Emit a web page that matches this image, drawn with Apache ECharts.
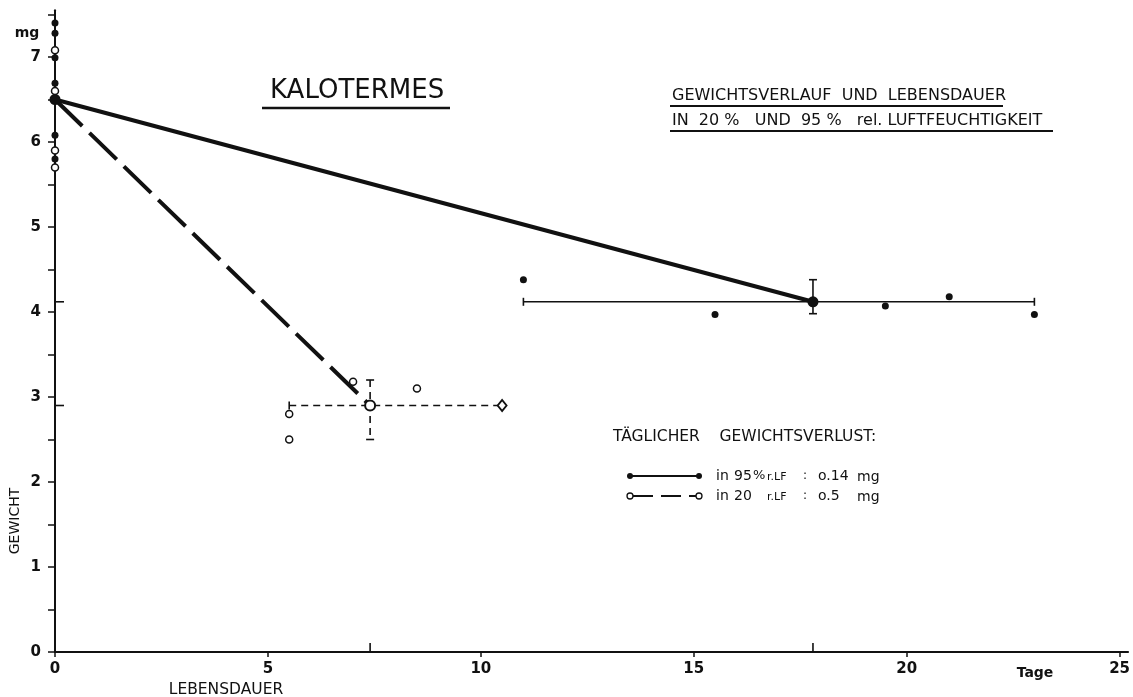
<!DOCTYPE html>
<html><head><meta charset="utf-8">
<script src="https://cdn.jsdelivr.net/npm/echarts@6/dist/echarts.min.js"></script>
<style>html,body{margin:0;padding:0;background:#fff}#c{width:1133px;height:697px}</style>
</head><body><div id="c"></div>
<script>
// ---- data ----
const xTickValues = [0, 5, 10, 15, 20, 25];
const xLabelValues = [0, 5, 10, 15, 20, 25];
const yTickValues = [0, 0.5, 1, 1.5, 2, 2.5, 3, 3.5, 4, 4.5, 5, 5.5, 6, 6.5, 7, 7.5];
const yLabelValues = [0, 1, 2, 3, 4, 5, 6, 7];
const startDay = 0;
const startWeight = 6.5;
const initialWeights95 = [7.40, 7.28, 6.99, 6.69, 6.08, 5.80];
const initialWeights20 = [7.08, 6.60, 5.90, 5.70];
const deathDays95 = [11.0, 15.5, 19.5, 21.0, 23.0];
const deathWeights95 = [4.38, 3.97, 4.07, 4.18, 3.97];
const deathDays20 = [5.5, 5.5, 7.0, 8.5];
const deathWeights20 = [2.80, 2.50, 3.18, 3.10];
const mean95 = [17.8, 4.12];
const mean20 = [7.4, 2.90];
const dayRange95 = [11.0, 23.0];
const weightRange95 = [3.98, 4.38];
const dayRange20 = [5.5, 10.5];
const weightRange20 = [2.50, 3.20];

const FONT = 'DejaVu Sans';
const INK = '#111';

function errRender(dashed, capRight) {
  return function (params, api) {
    const mx = api.value(0), my = api.value(1);
    const l = api.coord([api.value(2), my]);
    const r = api.coord([api.value(3), my]);
    const b = api.coord([mx, api.value(4)]);
    const t = api.coord([mx, api.value(5)]);
    const st = {stroke: INK, lineWidth: 1.6, lineDash: dashed ? [7, 5] : null};
    const cap = {stroke: INK, lineWidth: 1.6};
    const ch = [
      {type: 'line', shape: {x1: l[0], y1: l[1], x2: r[0], y2: r[1]}, style: st},
      {type: 'line', shape: {x1: l[0], y1: l[1] - 4, x2: l[0], y2: l[1] + 4}, style: cap},
      {type: 'line', shape: {x1: t[0], y1: t[1], x2: b[0], y2: b[1]}, style: st},
      {type: 'line', shape: {x1: t[0] - 4, y1: t[1], x2: t[0] + 4, y2: t[1]}, style: cap},
      {type: 'line', shape: {x1: b[0] - 4, y1: b[1], x2: b[0] + 4, y2: b[1]}, style: cap}
    ];
    if (capRight) ch.push({type: 'line', shape: {x1: r[0], y1: r[1] - 4, x2: r[0], y2: r[1] + 4}, style: cap});
    return {type: 'group', children: ch};
  };
}

const chart = echarts.init(document.getElementById('c'));
const txt = (x, y, s, size, extra) => ({
  type: 'text', x: x, y: y,
  style: {text: s, font: ((extra && extra.weight) || 'normal') + ' ' + size + 'px "' + FONT + '"', fill: INK,
    align: (extra && extra.align) || 'left', verticalAlign: 'middle'}
});
const ln = (x1, y1, x2, y2, w, dash) => ({type: 'line', shape: {x1, y1, x2, y2}, style: {stroke: INK, lineWidth: w, lineDash: dash || null}});
const solid = {color: INK, opacity: 1};

chart.setOption({
  animation: false,
  backgroundColor: '#fff',
  grid: {left: 55, right: 1.5, top: 10.25, bottom: 45, containLabel: false},
  xAxis: {
    type: 'value', min: 0, max: 25.2,
    axisLine: {lineStyle: {color: INK, width: 2}},
    axisTick: {show: true, customValues: xTickValues, length: 5, inside: false, lineStyle: {color: INK, width: 1.5}},
    axisLabel: {customValues: xLabelValues, margin: 10, color: INK, fontFamily: FONT, fontSize: 15, fontWeight: 'bold'},
    splitLine: {show: false}
  },
  yAxis: {
    type: 'value', min: 0, max: 7.55,
    axisLine: {show: true, lineStyle: {color: INK, width: 2}},
    axisTick: {show: true, customValues: yTickValues, length: 7, lineStyle: {color: INK, width: 1.5}},
    axisLabel: {customValues: yLabelValues, margin: 14, color: INK, fontFamily: FONT, fontSize: 15, fontWeight: 'bold'},
    splitLine: {show: false}
  },
  series: [
    {type: 'line', data: [[startDay, startWeight], mean95], symbol: 'none', clip: false,
      lineStyle: {color: INK, width: 4}, z: 3},
    {type: 'line', data: [[startDay, startWeight], mean20], symbol: 'none', clip: false,
      lineStyle: {color: INK, width: 4, type: [38, 10]}, z: 3},
    {type: 'custom', renderItem: errRender(false, true), clip: false, z: 2,
      data: [[mean95[0], mean95[1], dayRange95[0], dayRange95[1], weightRange95[0], weightRange95[1]]]},
    {type: 'custom', renderItem: errRender(true, false), clip: false, z: 2,
      data: [[mean20[0], mean20[1], dayRange20[0], dayRange20[1], weightRange20[0], weightRange20[1]]]},
    {type: 'scatter', clip: false, z: 5, symbol: 'circle', symbolSize: 7, itemStyle: solid,
      data: initialWeights95.map(w => [startDay, w]).concat(deathDays95.map((d, i) => [d, deathWeights95[i]]))},
    {type: 'scatter', clip: false, z: 5, symbol: 'circle', symbolSize: 7,
      itemStyle: {color: '#fff', opacity: 1, borderColor: INK, borderWidth: 1.5},
      data: initialWeights20.map(w => [startDay, w]).concat(deathDays20.map((d, i) => [d, deathWeights20[i]]))},
    {type: 'scatter', clip: false, z: 6, symbol: 'circle', symbolSize: 11, itemStyle: solid,
      data: [mean95, [startDay, startWeight]]},
    {type: 'scatter', clip: false, z: 6, symbol: 'circle', symbolSize: 10,
      itemStyle: {color: '#fff', opacity: 1, borderColor: INK, borderWidth: 2}, data: [mean20]},
    {type: 'scatter', clip: false, z: 6, symbol: 'diamond', symbolSize: [9, 11],
      itemStyle: {color: '#fff', opacity: 1, borderColor: INK, borderWidth: 1.8}, data: [[dayRange20[1], mean20[1]]]},
    {type: 'scatter', clip: false, z: 4, symbol: 'rect', symbolSize: [1.6, 9], symbolOffset: [0, -4.5],
      itemStyle: solid, data: [[mean20[0], 0], [mean95[0], 0]]},
    {type: 'scatter', clip: false, z: 4, symbol: 'rect', symbolSize: [9, 1.6], symbolOffset: [4.5, 0],
      itemStyle: solid, data: [[0, mean95[1]], [0, mean20[1]]]}
  ],
  graphic: [
    txt(270, 91, 'KALOTERMES', 26),
    ln(262, 108, 450, 108, 2.5),
    txt(672, 96, 'GEWICHTSVERLAUF  UND  LEBENSDAUER', 16),
    ln(670, 106, 1003, 106, 2),
    txt(672, 121, 'IN  20 %   UND  95 %   rel. LUFTFEUCHTIGKEIT', 16),
    ln(670, 131, 1053, 131, 2),
    txt(613, 437, 'TÄGLICHER    GEWICHTSVERLUST:', 15.5),
    ln(630, 476, 699, 476, 2),
    {type: 'circle', shape: {cx: 630, cy: 476, r: 3}, style: {fill: INK}},
    {type: 'circle', shape: {cx: 699, cy: 476, r: 3}, style: {fill: INK}},
    ln(633, 496, 696, 496, 2, [20, 8]),
    {type: 'circle', shape: {cx: 630, cy: 496, r: 3}, style: {fill: '#fff', stroke: INK, lineWidth: 1.3}},
    {type: 'circle', shape: {cx: 699, cy: 496, r: 3}, style: {fill: '#fff', stroke: INK, lineWidth: 1.3}},
    txt(716, 476, 'in', 14), txt(734, 476, '95', 14), txt(753, 476, '%', 13), txt(767, 477, 'r.LF', 11),
    txt(803, 476, ':', 12), txt(818, 476, 'o.14', 14), txt(857, 477, 'mg', 14),
    txt(716, 496, 'in', 14), txt(734, 496, '20', 14), txt(767, 497, 'r.LF', 11),
    txt(803, 496, ':', 12), txt(818, 496, 'o.5', 14), txt(857, 497, 'mg', 14),
    txt(27, 33, 'mg', 14, {align: 'center', weight: 'bold'}),
    {type: 'text', x: 15, y: 521, rotation: Math.PI / 2,
      style: {text: 'GEWICHT', font: 'normal 14px "' + FONT + '"', fill: INK, align: 'center', verticalAlign: 'middle'}},
    txt(226, 690, 'LEBENSDAUER', 15.5, {align: 'center'}),
    txt(1035, 673, 'Tage', 14, {align: 'center', weight: 'bold'})
  ]
});
</script></body></html>
